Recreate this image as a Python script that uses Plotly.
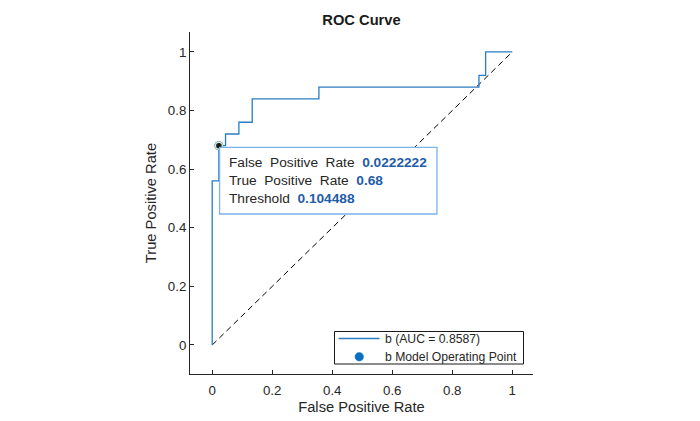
import plotly.graph_objects as go

# ROC curve corner points
fpr = [0.0, 0.0, 0.022222, 0.044444, 0.088889, 0.133333, 0.355556, 0.888889, 0.911111, 1.0]
tpr = [0.0, 0.56, 0.68, 0.72, 0.76, 0.84, 0.88, 0.92, 1.0, 1.0]
diag_x = [0, 1]
diag_y = [0, 1]
op_fpr = [0.0222222]
op_tpr = [0.68]
op_threshold = 0.104488
auc_value = 0.8587
x_ticks = [0, 0.2, 0.4, 0.6, 0.8, 1]
y_ticks = [0, 0.2, 0.4, 0.6, 0.8, 1]
x_tick_text = ["0", "0.2", "0.4", "0.6", "0.8", "1"]
y_tick_text = ["0", "0.2", "0.4", "0.6", "0.8", "1"]
legend_labels = [f"b (AUC = {auc_value:.4f})", "b Model Operating Point"]

FONT = "Liberation Sans, Arial, Helvetica, sans-serif"
TXT = "#262626"
BLUE = "#2a7cc4"
DOT = "#0a6fc2"

# plot area in window pixels (page is offset by the 8px body margin)
PL, PR, PT, PB = 190, 533, 32, 374
OFF = 8


def px(X):
    return (X - PL) / (PR - PL)


def py(Y):
    return (PB - Y) / (PB - PT)


fig = go.Figure()

fig.add_trace(go.Scatter(
    x=diag_x, y=diag_y, mode="lines",
    line=dict(color="black", width=1, dash="6px,4px"),
    showlegend=False, hoverinfo="skip"))

fig.add_trace(go.Scatter(
    x=fpr, y=tpr, mode="lines", line_shape="hv",
    line=dict(color=BLUE, width=1.3),
    name=legend_labels[0], showlegend=False))

fig.add_trace(go.Scatter(
    x=op_fpr, y=op_tpr, mode="markers",
    marker=dict(color=DOT, size=9),
    name=legend_labels[1], showlegend=False))

# datatip marker
fig.add_trace(go.Scatter(
    x=op_fpr, y=op_tpr, mode="markers",
    marker=dict(color="#1a1a1a", size=7, line=dict(color="#d8e8c8", width=1.5)),
    showlegend=False, hoverinfo="skip"))

# datatip box
fig.add_shape(type="rect", xref="x", yref="y",
              x0=0.0245, x1=0.749, y0=0.447, y1=0.674,
              line=dict(color="#7ab4e8", width=1.3), fillcolor="white", layer="above")

labels = ["False\u00a0\u00a0Positive\u00a0\u00a0Rate", "True\u00a0\u00a0Positive\u00a0\u00a0Rate", "Threshold"]
values = [f"{op_fpr[0]:.7f}", f"{op_tpr[0]:g}", f"{op_threshold:g}"]
line_y = [0.624, 0.562, 0.501]
for lab, val, yy in zip(labels, values, line_y):
    fig.add_annotation(
        x=0.05, y=yy, xref="x", yref="y", xanchor="left", yanchor="middle",
        showarrow=False,
        text=f"<span style='color:{TXT}'>{lab}</span>\u00a0\u00a0<b><span style='color:#1f5ca8'>{val}</span></b>",
        font=dict(family=FONT, size=13.7))

# legend (drawn as a box, samples and labels)
fig.add_shape(type="rect", xref="paper", yref="paper",
              x0=px(334.5), x1=px(523.5), y0=py(364), y1=py(331.5),
              line=dict(color="#1a1a1a", width=1), fillcolor="white", layer="above")
fig.add_shape(type="line", xref="paper", yref="paper",
              x0=px(338.5), x1=px(379.5), y0=py(338.5), y1=py(338.5),
              line=dict(color=BLUE, width=1.3), layer="above")
fig.add_shape(type="circle", xref="paper", yref="paper",
              x0=px(355), x1=px(363.5), y0=py(361), y1=py(352.5),
              line=dict(color=DOT, width=0.5), fillcolor=DOT, layer="above")
for lab, Y in zip(legend_labels, [338.5, 356.5]):
    fig.add_annotation(x=px(383), y=py(Y), xref="paper", yref="paper",
                       xanchor="left", yanchor="middle", showarrow=False,
                       text=lab, font=dict(family=FONT, size=12.2, color=TXT))

fig.update_layout(
    width=700, height=421,
    margin=dict(l=PL - OFF, r=700 - (PR - OFF), t=PT - OFF, b=421 - (PB - OFF)),
    paper_bgcolor="white", plot_bgcolor="white",
    font=dict(family=FONT, color=TXT),
    title=dict(text="<b>ROC Curve</b>", x=((PL + PR) / 2 - OFF) / 700, xanchor="center",
               y=1 - (20 - OFF) / 421, yanchor="middle",
               font=dict(family=FONT, size=14.7, color="#1a1a1a")),
    xaxis=dict(range=[-0.074, 1.069], tickvals=x_ticks, ticktext=x_tick_text,
               showgrid=False, zeroline=False, showline=True, linecolor=TXT, linewidth=1,
               ticks="inside", ticklen=4, tickcolor=TXT, tickfont=dict(size=13.3, color=TXT),
               ticklabelstandoff=4,
               title=dict(text="False Positive Rate", font=dict(size=14.7, color=TXT), standoff=4)),
    yaxis=dict(range=[-0.099, 1.068], tickvals=y_ticks, ticktext=y_tick_text,
               showgrid=False, zeroline=False, showline=True, linecolor=TXT, linewidth=1,
               ticks="inside", ticklen=4, tickcolor=TXT, tickfont=dict(size=13.3, color=TXT),
               title=dict(text="True Positive Rate", font=dict(size=14.7, color=TXT), standoff=7)),
    showlegend=False,
)

fig.write_html("out.html")
